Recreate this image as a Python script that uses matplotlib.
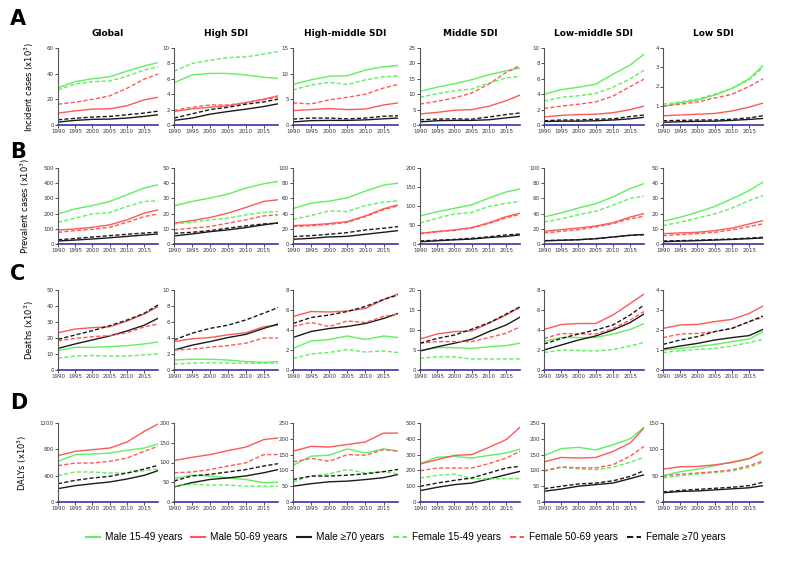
import numpy as np
import matplotlib
matplotlib.use("Agg")
import matplotlib.pyplot as plt
from matplotlib.lines import Line2D

# years sampled from the curves
years = [1990, 1995, 2000, 2005, 2010, 2015, 2019]
regions = ["Global", "High SDI", "High-middle SDI", "Middle SDI", "Low-middle SDI", "Low SDI"]
letters = ["A", "B", "C", "D"]
ylabels = ["Incident cases (x10$^3$)", "Prevalent cases (x10$^3$)", "Deaths (x10$^3$)", "DALYs (x10$^3$)"]
series_names = ["Male 15-49 years", "Male 50-69 years", "Male \u226570 years",
                "Female 15-49 years", "Female 50-69 years", "Female \u226570 years"]

# each panel: [M15-49, M50-69, M70+, F15-49, F50-69, F70+]
inc_global = [[29, 33.8, 36, 37.6, 42, 46, 48.7], [9.3, 11, 12.4, 12.6, 15, 19.6, 21.6], [2.3, 3.6, 4.4, 4.6, 5.4, 6.7, 8],
              [27.3, 32, 33.8, 34.3, 38, 42.8, 45.4], [16.2, 17.8, 20, 22.7, 28.6, 35.8, 39.7], [4.1, 5.2, 6.2, 6.7, 8, 9.3, 10.8]]
inc_high = [[5.5, 6.5, 6.7, 6.7, 6.5, 6.2, 6.05], [1.75, 2.1, 2.3, 2.5, 2.9, 3.35, 3.8], [0.6, 0.9, 1.4, 1.75, 2.05, 2.4, 2.75],
            [7.0, 8.0, 8.4, 8.75, 8.85, 9.2, 9.55], [1.9, 2.3, 2.6, 2.6, 2.9, 3.3, 3.6], [0.9, 1.45, 2.0, 2.3, 2.7, 3.0, 3.35]]
inc_hm = [[7.9, 8.8, 9.5, 9.6, 10.7, 11.35, 11.6], [2.8, 3.0, 3.2, 3.0, 3.1, 3.9, 4.3], [0.6, 0.85, 0.9, 0.9, 1.0, 1.2, 1.35],
          [6.8, 7.8, 8.3, 7.9, 8.8, 9.4, 9.55], [4.3, 4.1, 4.9, 5.4, 6.0, 7.2, 7.9], [1.15, 1.35, 1.35, 1.2, 1.35, 1.7, 1.8]]
inc_mid = [[10.9, 12.3, 13.4, 14.7, 16.3, 17.6, 18.5], [3.6, 4.1, 4.8, 5.0, 6.1, 7.9, 9.7], [1.0, 1.4, 1.5, 1.5, 1.7, 2.3, 2.8],
           [9.0, 10.2, 11.1, 11.7, 13.6, 15.3, 15.8], [6.8, 7.7, 8.8, 10.4, 13.3, 17.1, 19.3], [1.7, 1.9, 2.0, 1.9, 2.6, 3.4, 3.9]]
inc_lm = [[4.0, 4.6, 4.9, 5.3, 6.6, 7.8, 9.2], [1.05, 1.25, 1.35, 1.4, 1.6, 2.0, 2.45], [0.45, 0.5, 0.5, 0.55, 0.65, 0.8, 1.0],
          [3.1, 3.6, 3.8, 4.1, 4.9, 6.0, 7.1], [2.15, 2.45, 2.7, 3.0, 3.75, 5.0, 5.95], [0.55, 0.65, 0.65, 0.75, 0.8, 1.1, 1.3]]
inc_low = [[0.97, 1.15, 1.3, 1.55, 1.9, 2.4, 3.1], [0.48, 0.52, 0.56, 0.6, 0.73, 0.93, 1.14], [0.14, 0.17, 0.19, 0.2, 0.24, 0.29, 0.34],
           [1.08, 1.2, 1.35, 1.6, 1.9, 2.35, 3.0], [0.97, 1.08, 1.2, 1.4, 1.6, 2.0, 2.4], [0.22, 0.24, 0.26, 0.26, 0.3, 0.37, 0.48]]

prev_global = [[198, 231, 253, 280, 324, 368, 390], [92, 99, 110, 126, 159, 203, 225], [20, 26, 33, 41, 50, 59, 66],
               [143, 170, 198, 207, 247, 280, 284], [77, 88, 97, 110, 143, 180, 198], [28, 36, 46, 55, 64, 72, 78]]
prev_high = [[25.1, 28, 30.2, 32.8, 36.8, 39.6, 41.2], [13.7, 15.4, 17.4, 20.3, 24, 28, 29.1], [5.3, 6.6, 8.1, 9.3, 10.8, 12.6, 13.9],
             [13.2, 14.3, 15.9, 17, 19.2, 20.7, 21.4], [9.3, 10.4, 11.5, 13.7, 15.9, 18.5, 19.2], [7.0, 7.7, 8.8, 10.4, 11.9, 13.2, 13.7]]
prev_hm = [[46.7, 53.7, 56.4, 60.8, 69.6, 77.5, 80], [24.2, 25.1, 26.9, 29.5, 37, 46.3, 51.5], [6.2, 7.5, 9.3, 10.1, 12.8, 15.4, 17.6],
           [32.6, 37.4, 43.6, 42.7, 50.7, 55, 56.8], [22.9, 24, 25.8, 28.5, 36, 45.3, 50.2], [9.7, 11, 12.8, 15, 18.5, 20.7, 22.9]]
prev_mid = [[74, 85, 94, 103, 121, 137, 145], [28, 33, 37, 43, 56, 72, 81], [6, 8.5, 11, 13, 17, 20, 24],
            [55, 68, 79, 83, 99, 107, 112], [27, 32, 36, 42, 54, 69, 78], [8, 10, 12, 15, 19, 24, 26]]
prev_lm = [[35.5, 41, 47.4, 53, 62, 73, 79.4], [16.7, 18.9, 21, 23.7, 28, 35.5, 40], [4.2, 4.9, 5.6, 7, 9.2, 11.5, 12.5],
           [29, 33, 38.6, 43, 51, 60, 63], [14.5, 16.7, 18.9, 22.4, 26.8, 33.3, 36.4], [4.4, 5, 5.7, 7, 9.2, 11.4, 12.3]]
prev_low = [[15, 17.6, 21, 24.7, 29.7, 35.2, 40.7], [6.8, 7.3, 7.7, 8.8, 10.4, 13.2, 15.4], [1.5, 1.9, 2.2, 2.6, 3.0, 3.5, 4.0],
            [12.1, 14.3, 17, 19.8, 23.6, 28.6, 31.9], [5.5, 6.2, 6.8, 7.7, 9.3, 11.5, 13.2], [2.0, 2.2, 2.5, 2.9, 3.3, 3.9, 4.4]]

death_global = [[12.1, 14.2, 14.2, 14.6, 15.2, 16.3, 17.5], [23.3, 25.6, 26.5, 27, 30.6, 35, 39.6], [13.5, 16.3, 18.8, 21.3, 24.4, 28, 32.3],
                [7.3, 8.75, 9, 8.75, 8.75, 9.4, 10], [18.3, 19.8, 20.8, 21.5, 23.3, 27, 28.7], [19.2, 21.9, 24.6, 27.7, 31.2, 35.4, 40.6]]
death_high = [[1.25, 1.35, 1.35, 1.25, 1.05, 0.95, 1.05], [3.55, 3.9, 4.05, 4.4, 4.65, 5.4, 5.6], [2.5, 3.1, 3.55, 4.05, 4.45, 5.2, 5.75],
              [0.75, 0.85, 0.9, 0.85, 0.85, 0.85, 0.85], [2.5, 2.6, 2.85, 3.05, 3.35, 4.0, 4.0], [3.75, 4.6, 5.2, 5.6, 6.25, 7.1, 7.8]]
death_hm = [[2.15, 2.9, 3.05, 3.4, 3.05, 3.4, 3.25], [5.35, 5.85, 5.8, 5.9, 6.15, 7.05, 7.6], [3.25, 3.85, 4.15, 4.35, 4.65, 5.15, 5.65],
            [1.15, 1.6, 1.75, 2.05, 1.8, 1.9, 1.75], [4.35, 4.75, 4.35, 4.9, 4.75, 5.35, 5.6], [4.65, 5.25, 5.5, 5.85, 6.35, 7.05, 7.5]]
death_mid = [[4.85, 5.6, 5.6, 5.4, 5.8, 6.1, 6.7], [7.75, 9.0, 9.6, 9.75, 11.7, 13.75, 15.7], [4.75, 5.8, 6.7, 7.7, 9.6, 11.25, 13.2],
             [2.9, 3.3, 3.3, 2.75, 2.75, 2.75, 2.75], [6.7, 7.1, 7.1, 7.1, 8.1, 9.2, 10.8], [6.7, 7.9, 8.75, 10.2, 11.8, 14, 15.8]]
death_lm = [[2.85, 3.25, 3.25, 3.25, 3.6, 4.05, 4.65], [4.05, 4.55, 4.65, 4.65, 5.5, 6.65, 7.6], [2.0, 2.5, 3.0, 3.4, 4.0, 4.75, 5.6],
            [1.75, 2.0, 1.95, 1.9, 2.05, 2.4, 2.75], [3.15, 3.65, 3.6, 3.6, 4.15, 5.0, 5.85], [2.6, 3.15, 3.6, 4.0, 4.5, 5.5, 6.5]]
death_low = [[1.0, 1.08, 1.17, 1.28, 1.42, 1.55, 1.92], [2.08, 2.25, 2.28, 2.42, 2.53, 2.83, 3.2], [1.05, 1.2, 1.33, 1.5, 1.62, 1.72, 2.03],
             [0.87, 0.97, 1.03, 1.08, 1.2, 1.37, 1.53], [1.62, 1.8, 1.83, 1.92, 2.08, 2.42, 2.63], [1.28, 1.5, 1.67, 1.92, 2.08, 2.42, 2.7]]

daly_global = [[618, 719, 729, 744, 785, 820, 881], [704, 770, 795, 820, 911, 1073, 1185], [203, 248, 278, 304, 349, 405, 476],
               [400, 456, 456, 440, 440, 476, 501], [552, 592, 592, 618, 668, 770, 846], [278, 329, 365, 390, 440, 501, 557]]
daly_high = [[59, 68, 66, 61, 57, 49, 50], [105, 113, 120, 130, 139, 158, 162], [38, 49, 57, 61, 66, 74, 82],
             [40, 45, 43, 43, 40, 40, 40], [74, 76, 82, 91, 99, 120, 120], [53, 66, 70, 76, 82, 91, 97]]
daly_hm = [[116, 145, 148, 168, 155, 168, 161], [161, 176, 174, 182, 190, 218, 218], [50, 58, 64, 66, 71, 77, 87],
           [64, 82, 89, 103, 92, 96, 89], [127, 138, 129, 150, 148, 166, 161], [71, 82, 82, 85, 89, 96, 103]]
daly_mid = [[243, 283, 289, 278, 295, 310, 335], [240, 268, 295, 300, 346, 395, 473], [72, 93, 110, 120, 146, 173, 194],
            [152, 169, 177, 148, 146, 148, 148], [198, 215, 215, 215, 243, 278, 321], [99, 120, 137, 152, 184, 215, 226]]
daly_lm = [[147, 169, 173, 165, 181, 200, 236], [127, 141, 139, 141, 160, 187, 234], [34, 41, 50, 55, 60, 74, 86],
           [97, 110, 105, 102, 110, 126, 141], [99, 111, 108, 108, 118, 145, 176], [42, 50, 57, 60, 67, 81, 99]]
daly_low = [[50, 57.5, 62.5, 69, 76, 82.5, 95], [62.5, 67, 67.5, 70.6, 75, 82.5, 95], [17.5, 20, 21, 23, 25, 27, 31],
            [45.6, 50, 53, 56, 59, 65.6, 76], [49, 53, 55, 57.5, 61, 69, 78], [19, 22, 24, 26, 28, 31, 37.5]]

rows = [[inc_global, inc_high, inc_hm, inc_mid, inc_lm, inc_low],
        [prev_global, prev_high, prev_hm, prev_mid, prev_lm, prev_low],
        [death_global, death_high, death_hm, death_mid, death_lm, death_low],
        [daly_global, daly_high, daly_hm, daly_mid, daly_lm, daly_low]]

# y axis max and tick step for each panel
ymax = [[60, 10, 15, 25, 10, 4], [500, 50, 100, 200, 100, 50], [50, 10, 8, 20, 8, 4], [1200, 200, 250, 500, 250, 150]]
ystep = [[20, 2, 5, 5, 2, 1], [100, 10, 20, 50, 20, 10], [10, 2, 2, 5, 2, 1], [400, 50, 50, 100, 50, 50]]

green = "#5ef05e"
red = "#ff5858"
black = "#1a1a1a"
colors = [green, red, black, green, red, black]
dash = (0, (3, 1.6))
styles = ["-", "-", "-", dash, dash, dash]

W, H = 800, 563
fig = plt.figure(figsize=(8, 5.63), dpi=100)

col_left = [58, 174, 293, 420, 544, 663]
col_w = [100, 104, 105, 100, 100, 100]
row_top = [48, 168, 290, 423]
row_bot = [125, 244, 370, 502]
letter_y = [19, 152, 274, 403]

for r in range(4):
    for c in range(6):
        ax = fig.add_axes([col_left[c] / W, 1 - row_bot[r] / H, col_w[c] / W, (row_bot[r] - row_top[r]) / H])
        for k in range(6):
            ax.plot(years, rows[r][c][k], color=colors[k], linestyle=styles[k], lw=1.0)
        ax.set_xlim(1990, 2019)
        ax.set_ylim(0, ymax[r][c])
        ax.set_yticks(np.arange(0, ymax[r][c] + ystep[r][c] / 2, ystep[r][c]))
        ax.set_xticks([1990, 1995, 2000, 2005, 2010, 2015])
        ax.tick_params(labelsize=4, length=2, width=0.6, pad=1, colors="#333333")
        for s in ["top", "right"]:
            ax.spines[s].set_visible(False)
        ax.spines["left"].set_color("#555555")
        ax.spines["left"].set_linewidth(0.8)
        ax.spines["bottom"].set_color("#3535a8")
        ax.spines["bottom"].set_linewidth(1.2)
        if r == 0:
            ax.set_title(regions[c], fontsize=6.5, fontweight="bold", pad=9)
        if c == 0:
            ax.set_ylabel(ylabels[r], fontsize=6, labelpad=8)
    fig.text(10 / W, 1 - letter_y[r] / H, letters[r], fontsize=15, fontweight="bold", va="center")

handles = [Line2D([0], [0], color=colors[k], linestyle=styles[k], lw=1.5) for k in range(6)]
fig.legend(handles, series_names, loc="center", bbox_to_anchor=(0.507, 1 - 537 / H), ncol=6, frameon=False,
           prop={"family": ["Liberation Sans Narrow", "Liberation Sans"], "size": 7.2},
           handlelength=1.4, columnspacing=0.9, handletextpad=0.5)

fig.savefig("out.png", dpi=100)
